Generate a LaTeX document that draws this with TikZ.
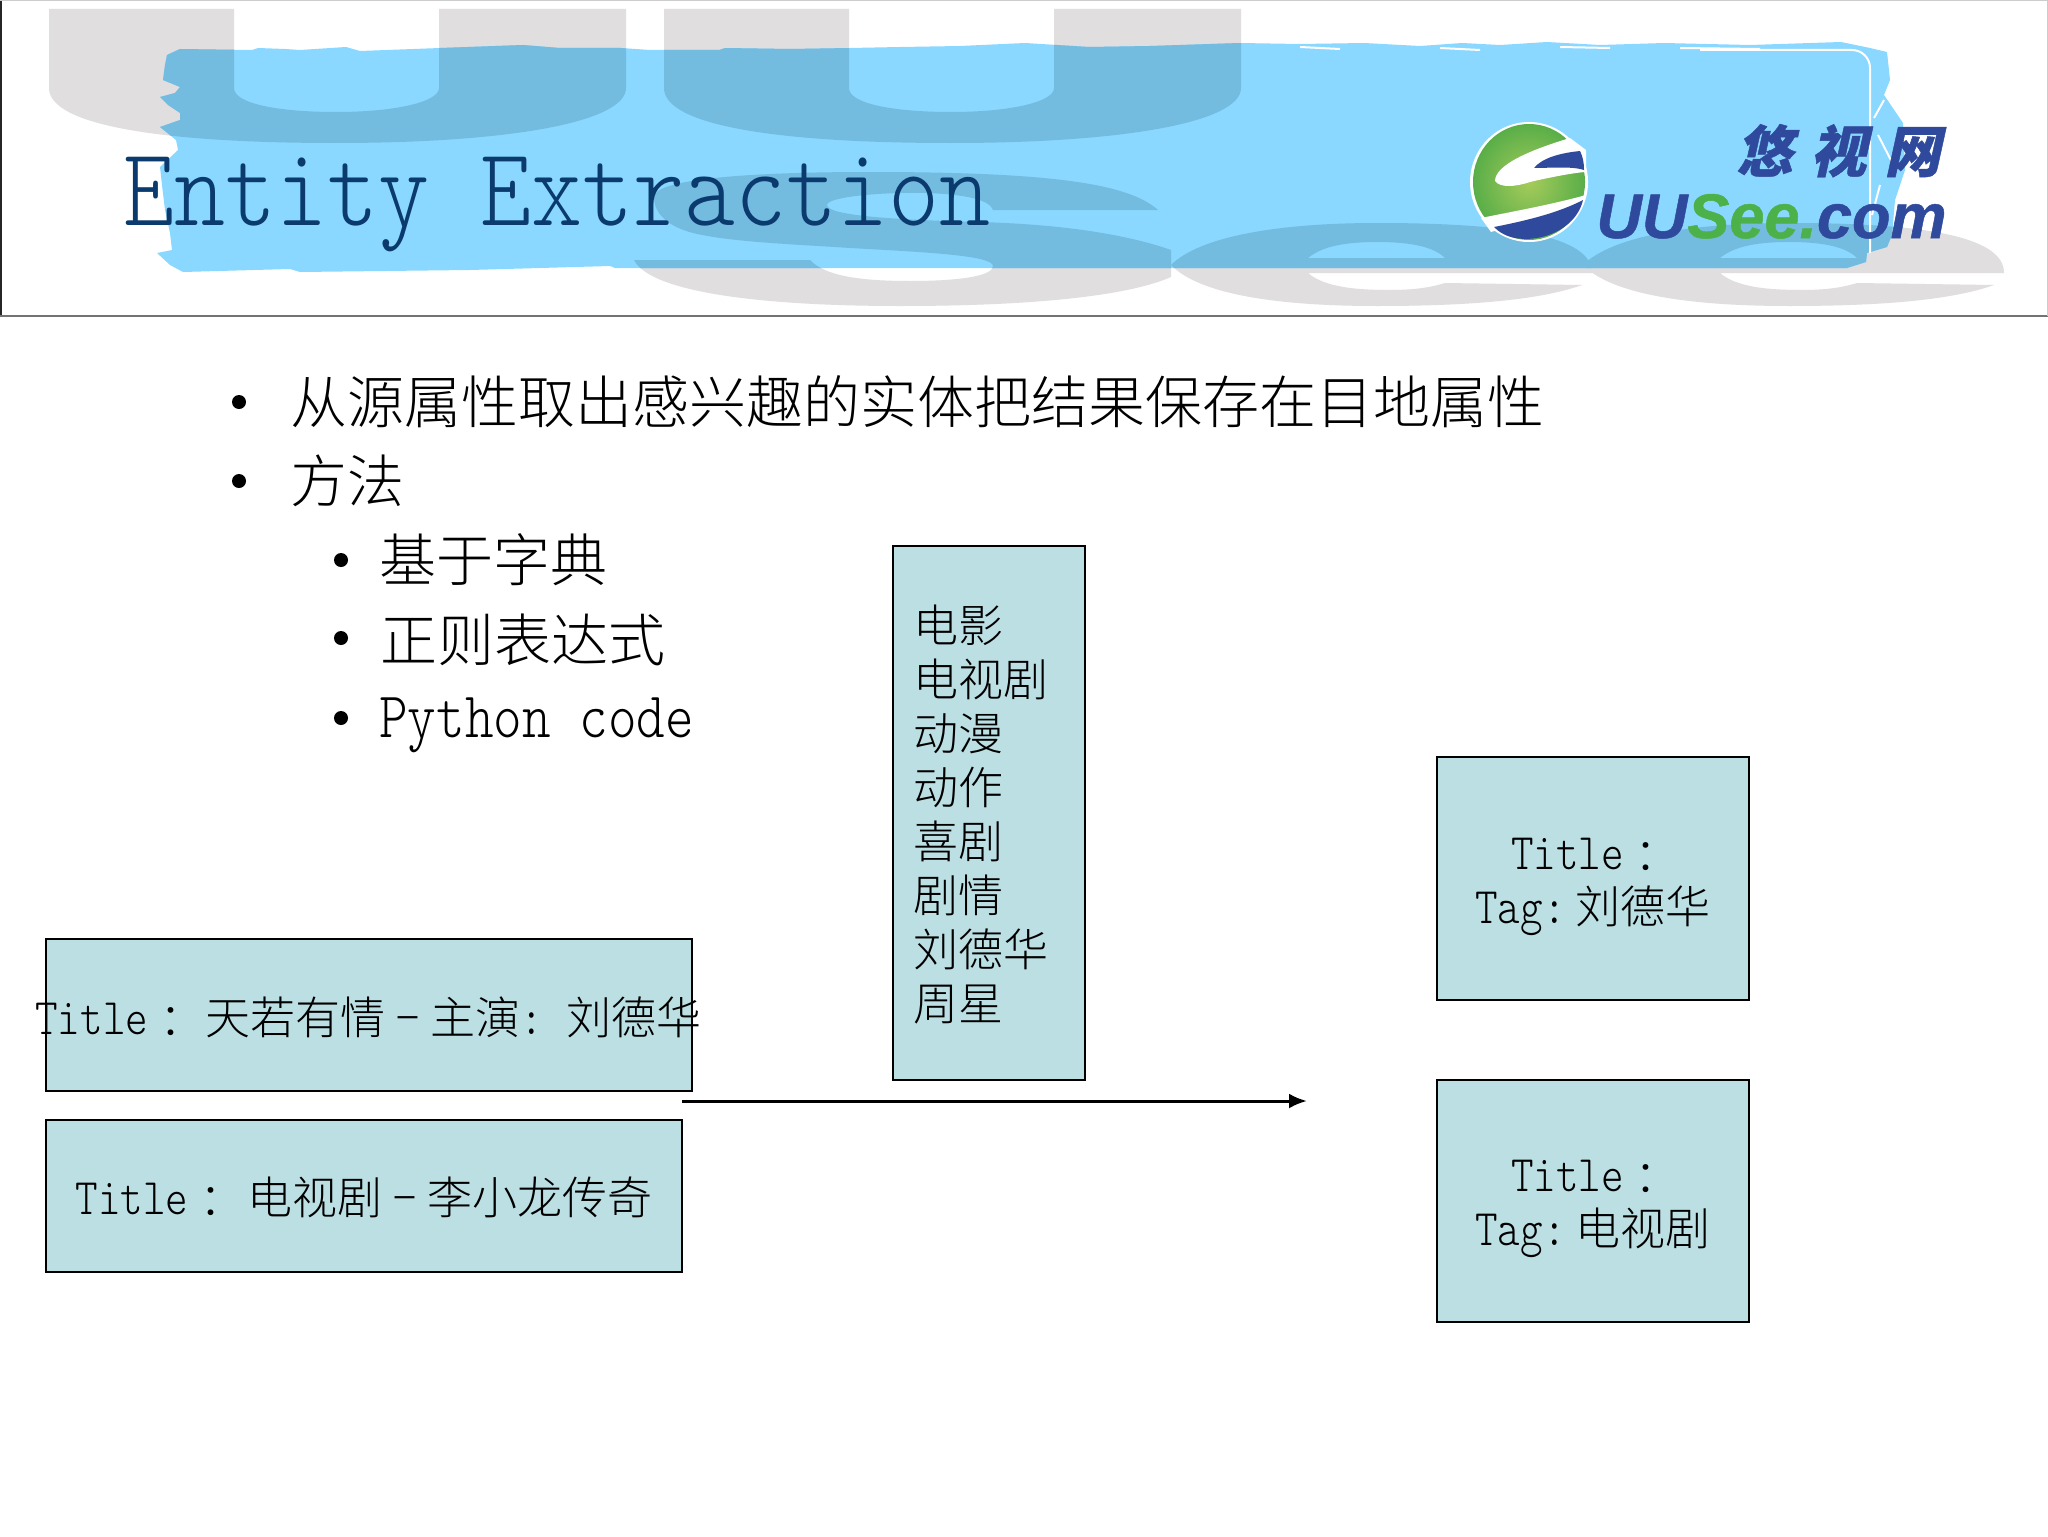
\documentclass[tikz,border=0pt]{standalone}
\usepackage{fontspec}
\usepackage{graphicx}
\usetikzlibrary{arrows.meta}
\setmainfont{Noto Sans CJK SC Light}
\setmonofont{Latin Modern Mono Light}
\newfontfamily\cjktc{Noto Sans CJK TC Light}
\newfontfamily\logocjk{Noto Sans CJK SC}[FakeSlant=0.22,FakeBold=0.8]
\newfontfamily\logolat{Liberation Sans}[FakeBold=0.8]
\newcommand\lat[1]{{\ttfamily\scalebox{.955}[1.14]{#1}}}
\newcommand\fwcolon{\raisebox{-2pt}{\cjktc ：}}
\newcommand\shortdash{\makebox[1em][c]{\scalebox{.6}[1]{－}}}
\definecolor{wgray}{HTML}{E0DEDF}
\definecolor{brush}{HTML}{8AD8FF}
\definecolor{wblue}{HTML}{74BBE0}
\definecolor{tealfill}{HTML}{BBDFE3}
\definecolor{navy}{HTML}{0B3A6E}
\definecolor{lnavy}{HTML}{2F4A9C}
\definecolor{lgreen}{HTML}{4DB14A}
\definecolor{orbin}{HTML}{A6CB5B}
\definecolor{orbout}{HTML}{59AE48}
\newcommand\wmU[1]{(#1+49,9) -- (#1+234,9) -- (#1+234,88) .. controls (#1+234,104) and (#1+280,112) .. (#1+336,112) .. controls (#1+395,112) and (#1+439,102) .. (#1+439,88) -- (#1+439,9) -- (#1+626,9) -- (#1+626,88) .. controls (#1+626,122) and (#1+510,143) .. (#1+336,143) .. controls (#1+160,143) and (#1+49,125) .. (#1+49,88) -- cycle}
\newcommand\wmS{(1158,210) .. controls (1130,185) and (1060,172) .. (870,172) .. controls (740,172) and (654,180) .. (654,197) .. controls (654,215) and (670,227) .. (693,233) .. controls (730,242) and (790,244) .. (850,248) .. controls (920,252) and (993,255) .. (993,266) .. controls (993,276) and (960,281) .. (910,281) .. controls (860,281) and (825,276) .. (810,260) -- (634,260) .. controls (650,292) and (760,306) .. (900,306) .. controls (1040,306) and (1130,295) .. (1171,277) -- (1171,250) .. controls (1120,232) and (1050,224) .. (980,222) .. controls (900,220) and (827,216) .. (827,205) .. controls (827,197) and (880,192) .. (925,193) .. controls (965,194) and (990,200) .. (993,210) -- cycle}
\newcommand\wmE[1]{(#1+1171,265) .. controls (#1+1200,236) and (#1+1280,223) .. (#1+1377,223) .. controls (#1+1510,223) and (#1+1592,236) .. (#1+1592,273) -- (#1+1308,273) .. controls (#1+1325,288) and (#1+1360,290) .. (#1+1390,290) .. controls (#1+1420,290) and (#1+1435,286) .. (#1+1445,283) -- (#1+1582,285) .. controls (#1+1540,300) and (#1+1470,306) .. (#1+1377,306) .. controls (#1+1280,306) and (#1+1200,295) .. (#1+1171,265) -- cycle (#1+1308,258) .. controls (#1+1320,248) and (#1+1340,242) .. (#1+1377,242) .. controls (#1+1415,242) and (#1+1435,248) .. (#1+1445,258) -- cycle}
\newcommand\brushpath{(167,55) -- (180,49) -- (252,50) -- (258,48) -- (285,49) -- (300,50) -- (346,47) -- (360,51) -- (440,48) -- (523,45) -- (560,48) -- (621,48) -- (650,50) -- (719,50) -- (725,48) -- (790,49) -- (850,48) -- (900,47) -- (960,46) -- (1025,43) -- (1089,47) -- (1150,46) -- (1240,43) -- (1300,44) -- (1364,43) -- (1420,46) -- (1462,43) -- (1500,45) -- (1547,42) -- (1600,45) -- (1664,43) -- (1750,45) -- (1841,42) -- (1870,48) -- (1887,52) -- (1890,80) -- (1884,95) -- (1903,123) -- (1905,170) -- (1895,200) -- (1892,235) -- (1887,247) -- (1867,253) -- (1866,262) -- (1847,268) -- (1500,268) -- (1024,268) -- (615,268) -- (610,266) -- (470,270) -- (300,272) -- (290,269) -- (183,272) -- (170,265) -- (157,253) -- (172,250) -- (170,233) -- (165,210) -- (162,185) -- (160,167) -- (178,150) -- (176,140) -- (160,127) -- (180,120) -- (180,113) -- (168,105) -- (160,97) -- (175,93) -- (180,87) -- (163,80) -- (165,65) -- cycle}
\tikzset{
  wm/.style={fill=wgray,draw=none,even odd rule},
  wmdark/.style={fill=wblue,draw=none,even odd rule},
  tealbox/.style={draw=black,line width=1pt,fill=tealfill,inner sep=0pt,font=\fontsize{22.5}{27}\selectfont},
  bodytext/.style={anchor=base west,inner sep=0pt,font=\fontsize{28.5}{34}\selectfont},
  bullet/.style={circle,fill=black,inner sep=0pt,minimum size=7pt},
  flowarrow/.style={line width=1.5pt,-{Latex[length=9pt,width=7.5pt]}}
}
\begin{document}
\begin{tikzpicture}[x=0.5pt,y=-0.5pt]
\useasboundingbox (0,0) rectangle (2048,1536);
\fill[white] (0,0) rectangle (2048,1536);
% header watermark
\fill[wm] \wmU{0} \wmU{615};
\fill[wm] \wmS;
\fill[wm] \wmE{0};
\fill[wm] \wmE{412};
\fill[brush] \brushpath;
\begin{scope}
  \clip \brushpath;
  \fill[wmdark] \wmU{0} \wmU{615};
  \fill[wmdark] \wmS;
  \fill[wmdark] \wmE{0};
  \fill[wmdark] \wmE{412};
\end{scope}
% white brush edge at the top right
\draw[white,line width=1pt,rounded corners=9pt] (1700,50) -- (1870,50) -- (1870,253);
\draw[white,line width=1pt] (1300,47) -- (1340,49) (1440,48) -- (1480,50) (1560,47) -- (1610,48) (1680,48) -- (1760,49) (1884,100) -- (1874,118) (1878,135) -- (1896,170) (1880,185) -- (1872,215);
% header frame
\draw[black!85,line width=1.3pt] (1,0) -- (1,316);
\draw[black!55,line width=.8pt] (0,316) -- (2048,316);
\draw[black!20,line width=.5pt] (0,0.5) -- (2048,0.5) (2047.5,0) -- (2047.5,316);
% title
\node[anchor=base west,inner sep=0pt,text=navy,font=\fontsize{48.6}{50}\selectfont\ttfamily] (title) at (123,225) {\scalebox{1}[1.15]{Entity Extraction}};
% logo
\fill[white] (1529,182) circle[x radius=29.5pt,y radius=30pt];
\shade[inner color=orbin,outer color=orbout] (1529,182) circle[x radius=28pt,y radius=29pt];
\fill[white] (1570,138) .. controls (1530,150) and (1495,165) .. (1495,181) .. controls (1500,188) and (1515,187) .. (1530,182) .. controls (1555,176) and (1580,172) .. (1586,172) -- (1586,150) -- cycle;
\fill[lnavy] (1580,151) .. controls (1560,153) and (1542,158) .. (1534,168) .. controls (1550,168) and (1572,166) .. (1584,170) .. controls (1584,163) and (1583,157) .. (1580,151) -- cycle;
\fill[white] (1586,195) .. controls (1550,205) and (1510,212) .. (1481,218) -- (1491,232) .. controls (1525,222) and (1560,212) .. (1582,203) -- cycle;
\fill[lnavy] (1494,227) .. controls (1530,220) and (1560,212) .. (1583,200) .. controls (1578,222) and (1555,238) .. (1527,239) .. controls (1512,239) and (1502,235) .. (1494,227) -- cycle;
\node[anchor=base west,inner sep=0pt,text=lnavy,font=\fontsize{28}{28}\selectfont\logocjk\bfseries] (logocn) at (1736,172) {悠\hspace{9pt}视\hspace{9pt}网};
\node[anchor=base west,inner sep=0pt,font=\fontsize{31.5}{32}\selectfont\logolat\bfseries\itshape] (logoen) at (1596,238) {\textcolor{lnavy}{UU}\textcolor{lgreen}{See.}\textcolor{lnavy}{com}};
% bullets
\node[bullet] (d1) at (239,402) {};
\node[bullet] (d2) at (239,481) {};
\node[bullet] (d3) at (341,560) {};
\node[bullet] (d4) at (341,638) {};
\node[bullet] (d5) at (341,718) {};
\node[bodytext] (t1) at (290,423) {从源属性取出感兴趣的实体把结果保存在目地属性};
\node[bodytext] (t2) at (290,502) {方法};
\node[bodytext] (t3) at (379,581) {基于字典};
\node[bodytext] (t4) at (380,661) {正则表达式};
\node[bodytext] (t5) at (379,737) {\lat{Python code}};
% boxes
\node[tealbox,minimum width=323pt,minimum height=76pt] (src1) at (368.5,1015) {\makebox[0pt][c]{\rule{0pt}{21.7pt}\lat{Title}\fwcolon\hspace{6pt}天若有情\shortdash 主演\lat{:}\hspace{12pt}刘德华}};
\node[tealbox,minimum width=318pt,minimum height=76pt] (src2) at (364,1196) {\rule{0pt}{20.4pt}\lat{Title}\fwcolon\hspace{7pt}电视剧\shortdash 李小龙传奇};
\node[tealbox,minimum height=267pt,text width=75pt,inner xsep=10.5pt,align=left] (dict) at (988.5,813) {\rule{0pt}{20.4pt}电影\\电视剧\\动漫\\动作\\喜剧\\剧情\\刘德华\\周星};
\node[tealbox,minimum width=156pt,minimum height=121.5pt,align=center] (res1) at (1593,878.5) {\rule{0pt}{23.6pt}\hspace{-3pt}\lat{Title}\fwcolon\\\lat{Tag:}\hspace{5pt}刘德华};
\node[tealbox,minimum width=156pt,minimum height=121pt,align=center] (res2) at (1593,1201) {\rule{0pt}{23.6pt}\hspace{-3pt}\lat{Title}\fwcolon\\\lat{Tag:}\hspace{5pt}电视剧};
% arrow
\coordinate (arrowstart) at (682,1101);
\coordinate (arrowend) at (1307,1101);
\draw[flowarrow] (arrowstart) -- (arrowend);
\end{tikzpicture}
\end{document}
